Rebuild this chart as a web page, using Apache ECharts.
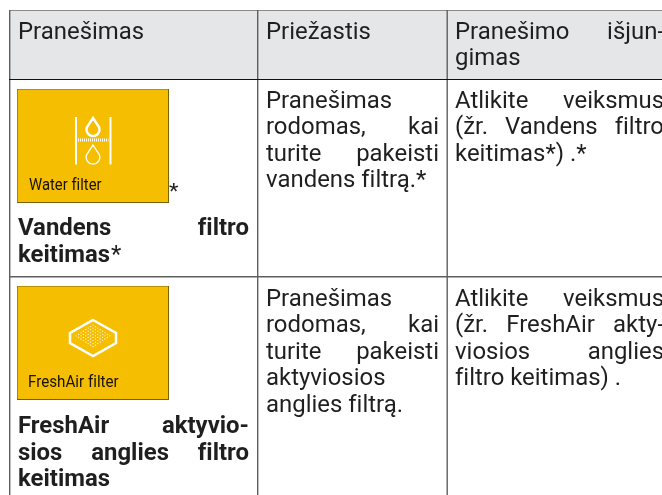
<!DOCTYPE html>
<html><head><meta charset="utf-8">
<style>html,body{margin:0;padding:0;background:#fff}#c{width:662px;height:495px}</style>
<script src="https://cdn.jsdelivr.net/npm/echarts@6/dist/echarts.min.js"></script>
</head><body><div id="c"></div>
<script>
const headers = [["Pranešimas"], ["Priežastis"], ["Pranešimo išjun-", "gimas"]];
const tileLabels = ["Water filter", "FreshAir filter"];
const names = [["Vandens filtro", "keitimas*"], ["FreshAir aktyvio-", "sios anglies filtro", "keitimas"]];
const causes = [["Pranešimas", "rodomas, kai", "turite pakeisti", "vandens filtrą.*"],
                ["Pranešimas", "rodomas, kai", "turite pakeisti", "aktyviosios", "anglies filtrą."]];
const actions = [["Atlikite veiksmus", "(žr. Vandens filtro", "keitimas*) .*"],
                 ["Atlikite veiksmus", "(žr. FreshAir akty-", "viosios anglies", "filtro keitimas) ."]];
// which lines are fully justified (the last line of a paragraph is not)
const justifiedHeaders = [[false], [false], [true, false]];
const justifiedNames = [[true, false], [true, true, false]];
const justifiedCauses = [[false, true, true, false], [false, true, true, false, false]];
const justifiedActions = [[true, true, false], [true, true, true, false]];

const FONT = 'Roboto';
const SIZE = 23.5, SX = 1.018, LINE = 26.5;
const noLig = t => t.replace(/fi/g, 'f\u200Ci');
const mc = document.createElement('canvas').getContext('2d');
function w(t, weight) { mc.font = weight + ' ' + SIZE + 'px ' + FONT; return mc.measureText(noLig(t)).width * SX; }
const els = [];
function txt(x, y, t, weight, sx, size, color) {
  els.push({type:'text', x, y, scaleX: sx, silent:true, z:5,
    style:{x:0, y:0, text:noLig(t), fill:color||'#1f1f1f', font:weight+' '+(size||SIZE)+'px '+FONT, textAlign:'left', textVerticalAlign:'middle', verticalAlign:'middle'}});
}
function para(lines, just, left, right, y0, weight) {
  lines.forEach((ln, i) => {
    const y = y0 + i * LINE;
    const parts = ln.split(' ');
    let x = left, gap = w(' ', weight);
    if (just[i] && parts.length > 1) {
      const total = parts.reduce((a, p) => a + w(p, weight), 0);
      gap = (right - left - total) / (parts.length - 1);
    }
    parts.forEach(p => {
      if (weight >= 700 && p.endsWith('*')) {
        const b = p.slice(0, -1);
        txt(x, y, b, weight, SX);
        txt(x + w(b, weight) + 1, y, '*', 400, SX);
      } else txt(x, y, p, weight, SX);
      x += w(p, weight) + gap;
    });
  });
}
function rect(x, y, wd, h, fill) { els.push({type:'rect', silent:true, z:1, shape:{x, y, width:wd, height:h}, style:{fill}}); }

// table
rect(9, 10, 653, 69, '#e5e6e8');
const GRID = '#5f5f5f';
rect(9, 10, 653, 1, '#8a8a8a');
rect(9, 10, 1.4, 485, GRID);
rect(257, 10, 1.4, 485, GRID);
rect(446.5, 10, 1.4, 485, GRID);
rect(9, 79, 653, 1, '#111');
rect(9, 276, 653, 1.4, GRID);

// text
const cols = [[18, 249], [266, 439], [455, 664]];
headers.forEach((h, i) => para(h, justifiedHeaders[i], cols[i][0], cols[i][1], 33, 400));
const nameY = [229.5, 427.5], causeY = [102, 300];
names.forEach((n, i) => para(n, justifiedNames[i], cols[0][0], cols[0][1], nameY[i], 700));
causes.forEach((n, i) => para(n, justifiedCauses[i], cols[1][0], cols[1][1], causeY[i], 400));
actions.forEach((n, i) => para(n, justifiedActions[i], cols[2][0], cols[2][1], causeY[i], 400));

// tiles
[89, 286].forEach((y, i) => {
  rect(17, y, 152, 114, '#7a6000');
  rect(17.6, y + 0.6, 150.4, 112.4, '#f5be00');
  txt([29, 28][i], y + 97, tileLabels[i], 400, [0.9, 0.92][i], 16.5, '#1a1200');
});
txt(169, 193, '*', 400, 1.1, 20);

// water icon
function line(x1,y1,x2,y2,lw,dash){els.push({type:'line',silent:true,z:3,shape:{x1,y1,x2,y2},style:{stroke:'#fff',lineWidth:lw,lineDash:dash||null}});}
function drop(cx, top, bot, lw) {
  const r = (bot - top) * 0.36, c = bot - r, pts = [[cx, top]];
  for (let d = -20; d <= 200; d += 10) {
    const t = d * Math.PI / 180;
    pts.push([cx + r * Math.cos(t), c + r * Math.sin(t)]);
  }
  els.push({type:'polygon', silent:true, z:3, shape:{points:pts}, style:{fill:null, stroke:'#fff', lineWidth:lw}});
}
line(76, 117, 76, 164.5, 2);
line(110.5, 117, 110.5, 164.5, 2);
drop(93, 118, 136, 2.4);
drop(93, 145, 164, 1.3);
line(78, 140, 108.5, 140, 3, [1, 1]);

// fresh air icon
els.push({type:'polygon', silent:true, z:3, shape:{points:[[93,320],[116,333],[116,343],[93,356],[70,343],[70,333]]}, style:{fill:null, stroke:'#fff', lineWidth:2.5}});
for (let a = 0; a < 8; a++) for (let b = 0; b < 8; b++) {
  const x = 93 + (a - b) * 2.4, y = 325 + (a + b) * 1.55;
  els.push({type:'circle', silent:true, z:3, shape:{cx:x, cy:y, r:0.62}, style:{fill:'#fff'}});
}

echarts.init(document.getElementById('c'), null, {renderer:'canvas'}).setOption({animation:false, graphic:{elements:els}});
</script></body></html>
